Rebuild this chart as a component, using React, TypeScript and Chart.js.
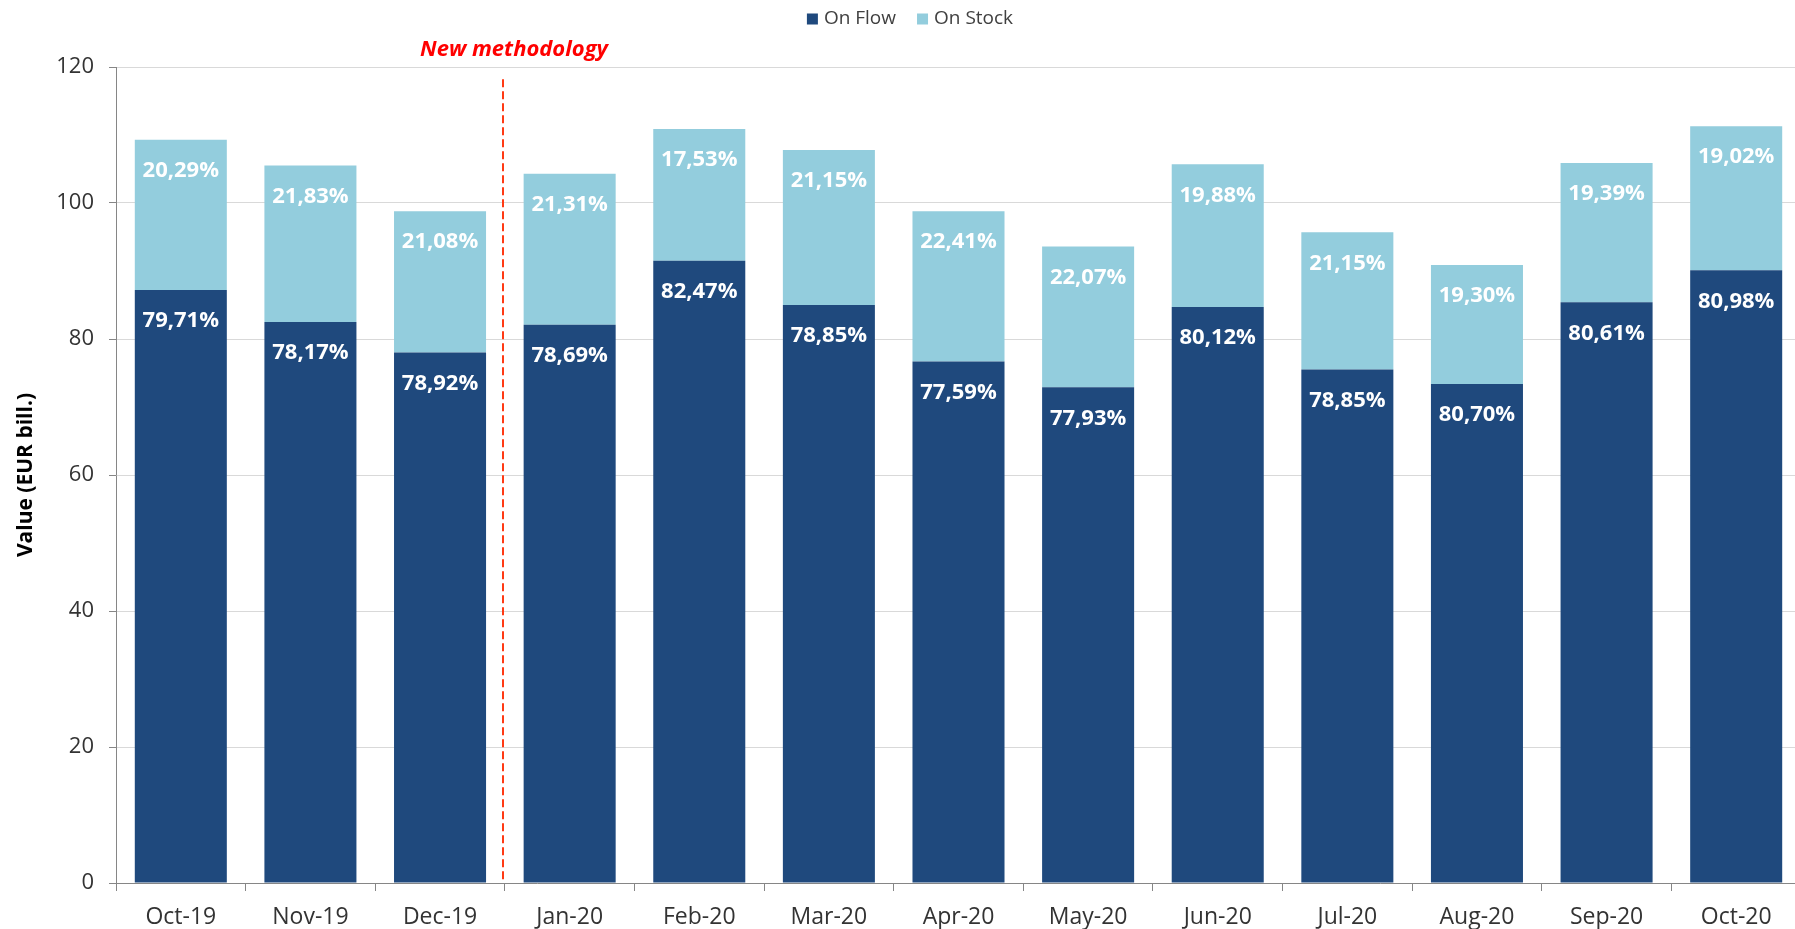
import React, { useEffect, useRef } from "react";
import { Chart, registerables } from "chart.js";

Chart.register(...registerables);

const categories = ["Oct-19", "Nov-19", "Dec-19", "Jan-20", "Feb-20", "Mar-20", "Apr-20", "May-20", "Jun-20", "Jul-20", "Aug-20", "Sep-20", "Oct-20"];
const onFlow = [87.2, 82.5, 78.0, 82.1, 91.5, 85.0, 76.7, 72.9, 84.7, 75.5, 73.4, 85.4, 90.1];
const onStock = [22.1, 23.0, 20.8, 22.2, 19.4, 22.8, 22.1, 20.7, 21.0, 20.2, 17.5, 20.5, 21.2];
const flowLabels = ["79,71%", "78,17%", "78,92%", "78,69%", "82,47%", "78,85%", "77,59%", "77,93%", "80,12%", "78,85%", "80,70%", "80,61%", "80,98%"];
const stockLabels = ["20,29%", "21,83%", "21,08%", "21,31%", "17,53%", "21,15%", "22,41%", "22,07%", "19,88%", "21,15%", "19,30%", "19,39%", "19,02%"];
const seriesNames = ["On Flow", "On Stock"];
const yMin = 0;
const yMax = 120;
const yStep = 20;
const annotationText = "New methodology";
const methodologyBoundary = 2.5; // between Dec-19 and Jan-20
const dashTopValue = 118.2;

const FLOW_COLOR = "#1F497D";
const STOCK_COLOR = "#93CDDD";
const FONT = "'Open Sans', 'DejaVu Sans', sans-serif";

const W = 1801;
const H = 929;

const barLabelsPlugin = {
  id: "barLabels",
  afterDatasetsDraw(chart: any) {
    const ctx = chart.ctx;
    const labelSets = [flowLabels, stockLabels];
    ctx.save();
    ctx.font = `bold 22px ${FONT}`;
    ctx.fillStyle = "#FFFFFF";
    ctx.textAlign = "center";
    ctx.textBaseline = "middle";
    chart.data.datasets.forEach((_ds: any, di: number) => {
      const meta = chart.getDatasetMeta(di);
      meta.data.forEach((bar: any, i: number) => {
        const top = Math.min(bar.y, bar.base);
        ctx.fillText(labelSets[di][i], bar.x, top + 31);
      });
    });
    ctx.restore();
  },
};

const annotationPlugin = {
  id: "methodology",
  afterDraw(chart: any) {
    const ctx = chart.ctx;
    const xs = chart.scales.x;
    const ys = chart.scales.y;
    const x = Math.round(xs.getPixelForValue(methodologyBoundary)) - 2;
    ctx.save();
    ctx.strokeStyle = "#FF3A14";
    ctx.lineWidth = 2;
    ctx.setLineDash([8, 4]);
    ctx.beginPath();
    ctx.moveTo(x, ys.getPixelForValue(dashTopValue));
    ctx.lineTo(x, chart.chartArea.bottom);
    ctx.stroke();
    ctx.setLineDash([]);
    ctx.font = `italic bold 22px ${FONT}`;
    ctx.fillStyle = "#FF0000";
    ctx.textAlign = "center";
    ctx.textBaseline = "middle";
    ctx.fillText(annotationText, x + 11, chart.chartArea.top - 17);
    ctx.restore();
  },
};

const legendPlugin = {
  id: "customLegend",
  afterDraw(chart: any) {
    const ctx = chart.ctx;
    ctx.save();
    ctx.font = `19px ${FONT}`;
    ctx.textBaseline = "middle";
    ctx.textAlign = "left";
    const colors = [FLOW_COLOR, STOCK_COLOR];
    const box = 11;
    const gapText = 6;
    const gapItem = 21;
    const widths = seriesNames.map((n) => ctx.measureText(n).width);
    const total = widths.reduce((a, b) => a + b, 0) + seriesNames.length * (box + gapText) + gapItem * (seriesNames.length - 1);
    let x = 910 - total / 2;
    const cy = 19;
    seriesNames.forEach((name, i) => {
      ctx.fillStyle = colors[i];
      ctx.fillRect(x, cy - box / 2, box, box);
      x += box + gapText;
      ctx.fillStyle = "#404040";
      ctx.fillText(name, x, cy);
      x += widths[i] + gapItem;
    });
    ctx.restore();
  },
};

export default function App() {
  const ref = useRef<HTMLCanvasElement | null>(null);

  useEffect(() => {
    if (!ref.current) return;
    const chart = new Chart(ref.current, {
      type: "bar",
      data: {
        labels: categories,
        datasets: [
          {
            label: seriesNames[0],
            data: onFlow,
            backgroundColor: FLOW_COLOR,
            borderWidth: 0,
            barPercentage: 0.71,
            categoryPercentage: 1,
          },
          {
            label: seriesNames[1],
            data: onStock,
            backgroundColor: STOCK_COLOR,
            borderWidth: 0,
            barPercentage: 0.71,
            categoryPercentage: 1,
          },
        ],
      },
      options: {
        responsive: false,
        animation: false,
        devicePixelRatio: 1,
        layout: { padding: { top: 67, right: 0, bottom: 0, left: 0 } },
        plugins: {
          legend: { display: false },
          tooltip: { enabled: false },
          title: { display: false },
        },
        scales: {
          x: {
            stacked: true,
            afterFit(scale: any) {
              scale.height = 46;
            },
            grid: {
              display: true,
              drawOnChartArea: false,
              drawTicks: true,
              tickLength: 8,
              tickColor: "#868686",
              offset: true,
            },
            border: { display: true, color: "#868686", width: 1 },
            ticks: {
              color: "#333333",
              font: { family: FONT, size: 23 },
              padding: 13,
              maxRotation: 0,
              autoSkip: false,
            },
          },
          y: {
            stacked: true,
            min: yMin,
            max: yMax,
            afterFit(scale: any) {
              scale.width = 116;
            },
            grid: {
              color: "#D9D9D9",
              lineWidth: 1,
              drawTicks: true,
              tickLength: 7,
              tickColor: "#868686",
            },
            border: { display: true, color: "#868686", width: 1 },
            ticks: {
              stepSize: yStep,
              color: "#333333",
              font: { family: FONT, size: 22 },
              padding: 15,
            },
            title: {
              display: true,
              text: "Value (EUR bill.)",
              color: "#000000",
              font: { family: FONT, size: 21, weight: "bold" },
              padding: { top: 13, bottom: 0 },
            },
          },
        },
      },
      plugins: [barLabelsPlugin, annotationPlugin, legendPlugin],
    } as any);
    return () => chart.destroy();
  }, []);

  return (
    <div style={{ position: "fixed", left: 0, top: 0, width: 1795, height: 929, overflow: "hidden", background: "#FFFFFF" }}>
      <canvas ref={ref} width={W} height={H} style={{ display: "block", width: W, height: H }} />
    </div>
  );
}
